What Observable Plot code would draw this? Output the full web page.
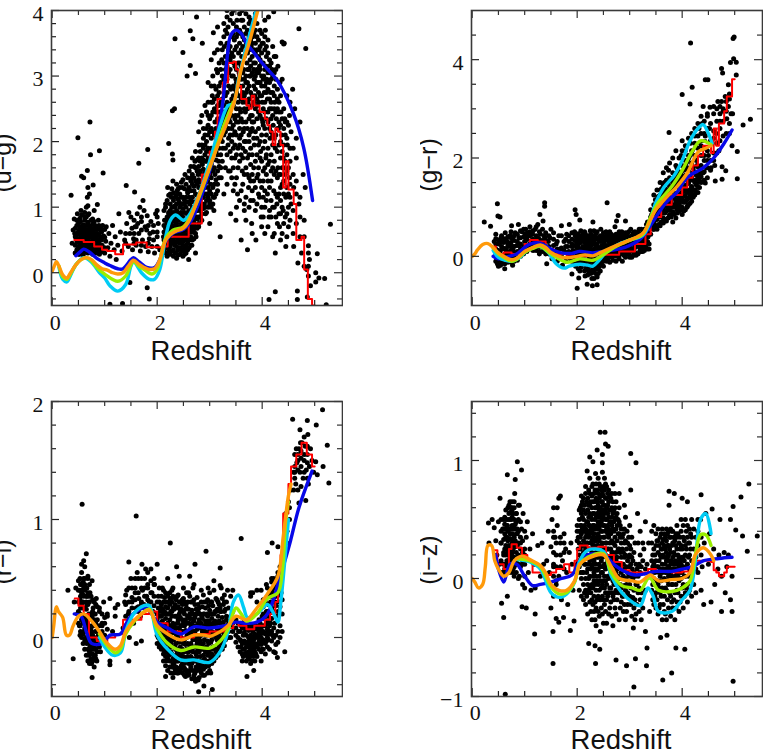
<!DOCTYPE html>
<html><head><meta charset="utf-8">
<script src="https://cdn.jsdelivr.net/npm/d3@7"></script>
<script src="https://cdn.jsdelivr.net/npm/@observablehq/plot@0.6"></script>
<style>html,body{margin:0;padding:0;background:#fff}#c{position:relative;width:763px;height:756px;overflow:hidden}#c svg{position:absolute;background:transparent}</style>
</head><body><div id="c"></div>
<script>
const ugPoints=[.49,2.06,.72,2.3,.73,1.8,.9,1.86,.97,1.52,.36,1.18,.56,1.47,.67,1.56,.6,1.45,.78,1.34,.68,1.3,.71,1.2,.67,1.15,.86,1.04,.68,1.02,1.41,1.33,1.57,1.23,1.65,1.67,1.82,1.88,1.27,.9,1.46,.92,1.73,1.1,1.67,1,2,.95,1.81,.87,1.1,-.48,1.34,-.47,1.81,-.23,1.85,-.4,1.48,-.15,2.34,3.57,2.49,3.36,2.68,3.57,2.86,3.5,2.63,3.69,2.75,3.9,3.07,3.66,2.63,3.16,2.57,3,2.73,3.04,2.29,2.47,2.33,2.5,2.22,1.97,2.29,1.81,2.3,1.72,4.7,3.72,4.83,3.42,4.41,3.49,4.38,3.52,4.22,3.98,3.33,4,5.3,.74,5.05,.29,4.88,.41,5.02,0,5.08,-.08,5.19,-.09,5.02,-.14,5.22,-.49,4.67,-.28,4.67,-.41,4.13,-.41,4.25,-.29,4.86,-.37,
.38,.45,.4,.65,.42,.82,.44,.3,.45,.55,.47,.72,.48,.9,.5,.38,.5,.62,.52,.28,.53,.5,.54,.78,.55,.95,.56,.36,.57,.6,.58,.45,.6,.7,.6,.3,.62,.85,.62,.52,.64,.4,.65,1,.66,.62,.67,.32,.68,.75,.7,.48,.7,.9,.72,.56,.73,.36,.75,.68,.76,.43,.77,.82,.78,.3,.8,.58,.8,.95,.82,.47,.83,.7,.85,.37,.86,.6,.88,.8,.9,.5,.9,.28,.92,.65,.95,.42,.96,.72,.98,.56,1,.3,1.02,.48,1.03,.7,1.06,.38,1.08,.6,1.1,.25,1.12,.45,1.15,.72,1.18,.35,1.2,.55,1.22,.2,1.25,.42,1.3,.62,.48,.5,.52,.66,.58,.58,.63,.48,.66,.5,.71,.68,.74,.55,.79,.5,.43,.6,.56,.7,.61,.4,.69,.42,.76,.6,.84,.53,.88,.42,
1.33,.33,1.38,.5,1.42,.75,1.45,.4,1.48,.6,1.5,.85,1.53,.35,1.55,.52,1.58,.7,1.6,.42,1.62,.9,1.65,.6,1.68,.33,1.7,.78,1.72,.5,1.75,.95,1.78,.4,1.8,.65,1.83,.32,1.85,.52,1.88,.78,1.9,.4,1.92,.62,1.95,.3,1.97,.9,2,.55,2.02,.75,2.05,.35,1.52,.68,1.63,.75,1.77,.7,1.86,.6,
2.1,.3,2.12,.55,2.14,.8,2.16,1.05,2.18,.42,2.2,.68,2.2,1.3,2.22,.9,2.24,.32,2.25,.55,2.27,1.15,2.28,.78,2.3,.45,2.3,1.4,2.32,.62,2.33,1,2.35,.3,2.36,.85,2.38,1.25,2.39,.52,2.4,.7,2.42,1.08,2.43,.38,2.45,.92,2.46,.6,2.48,1.3,2.49,.25,2.5,.78,2.5,.48,2.52,1.1,2.53,1.5,2.55,.65,2.55,.35,2.57,.9,2.58,1.25,2.6,.55,2.6,.2,2.62,1.05,2.63,.75,2.65,1.45,2.66,.42,2.68,.95,2.7,.62,2.7,1.25,2.72,1.7,2.73,.3,2.75,.85,2.76,1.1,2.78,1.5,2.79,.7,2.8,1.95,2.82,.95,2.83,1.3,2.85,.8,2.86,1.65,2.88,2.2,2.9,1.05,2.9,1.45,2.92,.9,2.94,1.85,2.95,1.2,2.97,2.4,2.98,1.6,3,.75,3,1.05,3.02,1.35,3.03,2.05,3.05,1.75,3.05,2.7,3.07,1.15,3.08,.95,3.1,1.5,3.1,2.3,3.12,1.95,3.13,3.1,3.15,2.55,3.15,1.25,3.17,1.7,3.18,2.85,3.2,2.15,3.2,.55,3.22,1.45,3.23,3.25,3.25,2.45,3.25,1.9,3.27,2.75,3.28,3.45,3.3,1.6,3.3,2.25,3.32,3.05,2.22,.45,2.26,.72,2.34,.72,2.44,.5,2.47,.72,2.51,.62,2.56,.5,2.59,.75,2.64,.62,2.69,.78,2.74,.55,2.77,.95,2.81,1.2,2.87,1.15,2.91,1.7,2.96,1.4,3.04,1.55,3.09,1.9,3.14,2,3.19,2.45,
3.33,2.6,3.35,3.75,3.35,1.95,3.37,2.35,3.38,3.3,3.4,.9,3.4,2.8,3.42,1.45,3.42,3.95,3.44,2.1,3.45,2.55,3.47,3.55,3.48,1.75,3.5,2.95,3.5,.8,3.52,3.85,3.53,1.2,3.55,2.3,3.55,3.35,3.57,1.95,3.58,2.7,3.6,.5,3.6,3.65,3.62,1.55,3.62,4,3.64,2.15,3.65,3.1,3.66,.95,3.68,2.45,3.68,1.85,3.7,3.5,3.72,.35,3.72,2.8,3.74,1.3,3.75,3.9,3.75,2.1,3.77,3.25,3.78,1.65,3.8,.75,3.8,2.55,3.82,3.6,3.83,1.1,3.85,2.95,3.85,1.95,3.87,3.35,3.88,.5,3.9,2.35,3.9,3.8,3.92,1.5,3.93,2.75,3.95,1.15,3.95,3.15,3.97,1.85,3.98,.85,4,2.6,4,3.5,4.02,1.4,4.03,3,4.05,2.2,4.05,.6,4.07,1.75,4.08,3.3,4.1,2.65,4.1,1.2,4.12,3.9,4.13,.85,4.15,2.05,4.15,3.05,4.17,1.55,4.18,2.5,4.2,.55,4.2,3.45,4.22,1.25,4.23,2.85,4.25,1.9,4.25,.3,4.27,2.35,4.28,1.05,4.3,3.15,4.3,1.6,4.32,2.6,4.33,.7,4.35,1.3,4.37,2.1,4.38,2.95,4.4,.95,4.4,1.75,4.42,3.5,4.43,2.35,4.45,.4,4.45,1.15,4.47,2.7,4.48,1.95,4.5,.7,4.52,1.45,4.52,2.4,4.55,2.15,4.55,1.05,4.58,2.8,4.6,.4,4.6,1.3,4.62,2.5,4.65,1.75,4.68,.15,4.7,1.05,4.72,2.3,4.75,.3,4.78,1.5,4.8,.1,4.82,1.3,4.85,.05,4.9,.2,4.92,-.2,
3.46,3.2,3.49,2.4,3.51,3.6,3.54,2.7,3.56,3.05,3.59,2.45,3.61,3.3,3.63,2.75,3.66,3.75,3.69,2.9,3.71,3.2,3.73,2.6,3.76,3,3.79,3.45,3.81,2.3,3.84,3.2,3.86,2.7,3.89,3.05,3.91,2.55,3.94,3.4,3.96,2.9,3.99,3.2,4.01,2.3,4.04,2.75,4.06,3.7,4.09,2.95,4.11,2.45,4.14,3.25,4.16,2.75,4.19,3.1,4.21,2.25,4.24,2.6,4.26,3.3,4.29,2.8,4.31,2.2,4.34,2.9,4.36,2.45];
const ugDense=[[.44,.3,.42,.55,.68],[.5,.28,.4,.52,.62,.75],[.53,.33,.45,.58,.7,.83],[.59,.27,.38,.5,.61,.73],[.62,.33,.44,.55,.67,.8,.92],[.68,.3,.41,.53,.64,.77,.88],[.71,.36,.47,.6,.71],[.77,.28,.38,.49,.62,.74],[.8,.33,.44,.55,.66,.78],[.85,.3,.42,.51,.66],[.89,.35,.46,.58,.72],[.94,.32,.5,.62],[1,.38,.54,.66],[1.4,.6,.45],[1.56,.6,.8,.45],[1.6,.5,.7],[1.7,.42,.65,.85],[1.83,.45,.72],[1.93,.5,.72],[2,.4,.62,.85],
[2.13,.35,.5,.62,.72,.95],[2.19,.25,.38,.5,.6,.75,.85,1.1],[2.25,.28,.4,.5,.63,.83,.95,1.05,1.2],[2.31,.25,.35,.5,.58,.68,.82,.92,1.1,1.22],[2.37,.22,.4,.47,.6,.75,.95,1.05,1.18,1.35],[2.43,.28,.45,.58,.65,.82,1,1.2,1.3],[2.49,.33,.42,.55,.65,.85,.98,1.15,1.42],[2.55,.3,.42,.58,.72,.82,1,1.15,1.35],[2.61,.38,.5,.62,.85,.95,1.15,1.3,1.55],[2.67,.5,.62,.7,.82,1,1.15,1.35,1.5,1.75],[2.73,.6,.7,.95,1.05,1.2,1.4,1.6,1.85],[2.79,.75,.85,1.05,1.3,1.42,1.62,1.75,2.15],[2.85,.9,1.05,1.2,1.4,1.5,1.75,1.95,2.4],[2.91,1,1.2,1.3,1.55,1.8,1.95,2.1,2.55],[2.97,1,1.15,1.3,1.75,1.9,2.1,2.25,2.6,2.9],[3.03,1,1.2,1.45,1.65,1.9,2.2,2.4,2.6,2.85,3.25],[3.09,1.15,1.35,1.6,2.1,2.5,2.65,2.85,3.35],[3.15,1.35,1.55,1.8,2.35,2.7,3.05,3.4,3.75],[3.21,1.6,1.8,2.05,2.6,2.9,3.1,3.5],[3.27,1.2,2.1,2.3,2.55,2.95,3.2,3.6,3.8],
[3.33,1.35,1.8,2.3,2.45,2.75,2.95,3.15,3.5,3.65,3.9],[3.39,1.55,1.85,2.1,2.3,2.55,3.1,3.25,3.45,3.85],[3.45,1.25,1.6,1.9,2.25,2.7,2.85,3,3.3,3.65,3.8,4],[3.51,1,1.45,1.8,2.1,2.3,2.5,2.75,2.9,3.1,3.45,3.75],[3.57,1.1,1.7,2.05,2.2,2.5,2.85,3,3.2,3.5,3.7,3.95],[3.63,1.35,1.75,1.9,2.3,2.6,2.85,3.05,3.45,3.6,3.85],[3.69,.8,1.15,1.6,2,2.3,2.6,2.75,3,3.35,3.65,3.95],[3.75,1,1.45,1.8,2,2.35,2.65,2.85,3.1,3.4,3.6,3.8],[3.81,.6,1.25,1.5,1.8,2.2,2.4,2.7,3.05,3.3,3.5,3.75],[3.87,.95,1.3,1.7,2.15,2.5,2.8,3,3.2,3.5,3.7,3.95],[3.93,1.2,1.6,1.95,2.2,2.45,2.6,2.9,3.05,3.3,3.55],[3.99,.7,1,1.3,1.7,2.1,2.35,2.7,2.85,3,3.35,3.65],[4.05,1,1.25,1.6,2,2.45,2.6,2.85,3.1,3.4,3.6,3.85],[4.11,.7,1.4,1.65,1.9,2.3,2.8,3.05,3.35,3.55],[4.17,.85,1.1,1.4,1.8,2.15,2.35,2.6,2.95,3.2],[4.23,.6,1,1.5,1.7,2.05,2.5,2.7,3.05,3.3],[4.29,.75,1.15,1.45,1.85,2.2,2.5,2.65],[4.35,.5,.9,1.1,1.5,1.75,2,2.25,2.7],[4.41,.75,1.2,1.4,1.6,1.95,2.2,2.5],[4.47,.55,.9,1.3,1.55,1.8,2.05,2.3],[4.53,.8,1.15,1.35,1.7,1.9,2.6],[4.59,.6,.95,1.5,1.9],[4.65,.75,1.2,1.4,2.05],[4.72,.55,.85,1.15],[4.8,.55,.8],[4.88,.1,.3,-.05]];
const ugFill=[[.47,.35,.47,.6,.8],[.56,.3,.42,.55,.66,.88],[.65,.36,.47,.58,.72,.85],[.74,.33,.44,.54,.66,.8],[.82,.36,.5,.6,.72],[.92,.4,.55,.68],
[2.16,.3,.45,.58,.68,.8,1],[2.22,.35,.55,.68,.78,.92,1.18],[2.28,.33,.45,.58,.72,.88,1,1.28],[2.34,.3,.42,.55,.65,.78,.88,1.02,1.15],[2.4,.27,.35,.55,.67,.8,.9,1.12,1.28],[2.46,.35,.5,.62,.75,.88,1.05,1.15,1.38],[2.52,.28,.38,.52,.6,.72,.92,1.05,1.28],[2.58,.35,.45,.52,.68,.78,.92,1.08,1.22,1.45],[2.64,.42,.55,.68,.8,.9,1.1,1.25,1.4,1.62],[2.7,.52,.68,.75,.9,1.08,1.32,1.45,1.62],[2.76,.68,.82,1.02,1.18,1.35,1.55,1.72],[2.82,.85,1,1.12,1.38,1.55,1.7,1.85,2.3],[2.88,.98,1.15,1.3,1.58,1.72,1.9,2.05],[2.94,.92,1.1,1.38,1.5,1.7,2,2.2,2.45],[3,1.1,1.25,1.5,1.7,1.85,2.15,2.35],[3.06,1.05,1.3,1.55,1.85,2.15,2.45,2.6,3],[3.12,1.2,1.42,1.72,1.85,2.2,2.45,2.8],[3.18,1.45,1.62,1.9,2.3,2.55,2.75,3.2],[3.24,1.7,2,2.3,2.65,3,3.4],[3.3,1.9,2.15,2.4,2.7,3.1,3.3,3.7],
[3.36,1.55,2.05,2.2,2.5,2.85,3.05,3.4],[3.42,1.75,2,2.2,2.4,2.65,3,3.35,3.6],[3.48,1.35,1.95,2.15,2.35,2.8,3.15,3.4],[3.54,1.6,1.9,2.4,2.6,2.85,3.2,3.65],[3.6,1.25,1.8,2.1,2.35,2.65,2.95,3.15,3.4,3.85],[3.66,1.05,1.5,2,2.2,2.5,2.7,2.95,3.3,3.55],[3.72,1.5,1.75,2.2,2.5,2.9,3.1,3.35,3.7],[3.78,1.1,1.4,1.9,2.15,2.4,2.75,3,3.15,3.55,3.85],[3.84,1.4,1.6,2.05,2.3,2.6,2.85,3.1,3.4,3.65],[3.9,1.05,1.45,1.8,2.05,2.65,2.9,3.1,3.4,3.6],[3.96,1.4,1.75,2,2.4,2.7,3.1,3.25,3.45,3.7],[4.02,.85,1.15,1.55,1.9,2.25,2.5,2.95,3.2,3.5],[4.08,1.1,1.5,1.8,2.1,2.35,2.75,2.9,3.15,3.45],[4.14,.95,1.3,1.7,2.2,2.5,2.65,2.9,3.15],[4.2,1,1.6,1.95,2.1,2.4,2.75,3],[4.26,.85,1.2,1.55,2.1,2.45,2.95,3.1],[4.32,.9,1.2,1.5,1.95,2.3,2.45],[4.38,.6,1,1.35,1.6,1.85,2.35],[4.44,.85,1.5,1.7,2.1,2.3],[4.5,1,1.2,1.6,2.25]];
const ugOrange=[0,.02,.05,.12,.08,.17,.13,.1,.2,-.03,.28,-.08,.35,0,.45,.12,.55,.2,.65,.23,.75,.2,.85,.12,.95,.06,1.05,.04,1.15,0,1.25,-.02,1.35,0,1.45,.1,1.55,.19,1.65,.13,1.75,.08,1.85,.05,1.95,.06,2.05,.2,2.15,.48,2.25,.58,2.35,.63,2.5,.68,2.6,.78,2.83,1.25,3.14,1.91,3.46,2.58,3.6,3.1,3.75,3.5,3.9,3.95,3.95,4.1];
const ugGreen=[.13,.1,.2,-.06,.28,-.1,.35,-.02,.45,.12,.55,.2,.65,.23,.75,.18,.85,.08,1,-.02,1.25,-.13,1.4,-.05,1.5,.12,1.55,.18,1.65,.1,1.75,.05,1.9,-.02,2,.05,2.15,.5,2.3,.65,2.5,.7,2.7,.97,3,1.6,3.25,2.2,3.45,2.6];
const ugCyan=[.13,.08,.2,-.1,.28,-.14,.35,-.04,.45,.12,.6,.23,.75,.16,.9,0,1,-.08,1.1,-.2,1.25,-.28,1.4,-.18,1.5,.1,1.55,.17,1.7,0,1.85,-.1,1.95,-.1,2.05,.05,2.15,.5,2.25,.8,2.35,.88,2.5,.8,2.6,.87,2.8,1.2,3,1.7,3.2,2.25,3.35,2.55,3.45,2.58,3.55,2.95,3.7,3.45,3.85,3.9,3.92,4.1];
const ugBlue=[.45,.26,.55,.33,.6,.36,.7,.32,.85,.22,1,.15,1.1,.11,1.25,.06,1.35,.06,1.5,.2,1.55,.23,1.65,.17,1.8,.08,1.95,.08,2.05,.2,2.15,.47,2.3,.6,2.5,.66,2.65,.8,2.9,1.3,3.05,1.7,3.15,2.1,3.25,2.6,3.3,3,3.35,3.4,3.4,3.62,3.5,3.7,3.6,3.65,3.7,3.5,3.81,3.39,4.05,3.15,4.29,2.93,4.6,2.42,4.79,1.91,4.96,1.1];
const ugRed=[.42,.5,.6,.47,.8,.4,.95,.35,1.05,.33,1.2,.28,1.35,.43,1.6,.46,1.8,.39,2.1,.4,2.2,.55,2.6,.75,2.85,1.5,3,1.85,3.1,2.15,3.15,2.65,3.25,2.9,3.35,3.2,3.45,3.22,3.5,3.1,3.55,2.85,3.6,2.65,3.7,2.55,3.75,2.5,3.8,2.7,3.85,2.55,3.95,2.45,4.05,2.35,4.1,2.25,4.15,2.15,4.2,1.95,4.25,2.2,4.3,2.15,4.35,1.95,4.4,1.3,4.45,1.7,4.5,1.27,4.6,1.05,4.65,.5,4.75,.55,4.8,.05,4.87,-.4,4.95,-.5,5,-.5];
const ugBlack=[2.2,.52,2.4,.68,2.6,.8,2.8,1.2,3,1.65,3.2,2.2,3.4,2.6];

const grPoints=[4.16,4.34,4.97,4.43,4.99,4.46,4.75,3.82,4.77,3.73,4.98,4.02,4.92,3.94,5.03,3.95,5.03,3.69,4.88,3.49,4.44,3.59,4.49,3.59,4.19,3.44,4,3.29,4.15,3.1,4.4,3.05,4.53,3.03,5.3,2.79,5.16,2.67,5.05,1.58,5.05,2.13,4.95,2.25,3.75,2.52,4.76,1.57,4.63,1.53,4.44,1.49,4.76,1.82,4.83,1.74,2.57,1.09,1.38,1.09,1.38,1.02,.48,1.07,.49,.82,.53,.8,.23,.7,.35,.61,1.29,.85,1.96,.95,1.98,.85,2.05,.74,2.78,.83,2.75,.72,2.92,.72,2,-.65,2.29,-.6,2.38,-.58,2.19,-.57,2.03,-.44,1.9,-.36,
.42,.3,.45,.45,.47,.12,.48,-.15,.5,.25,.52,.05,.54,-.18,.55,.38,.57,.15,.6,-.05,.6,.28,.62,-.25,.63,.48,.65,.12,.67,.3,.68,-.12,.7,.05,.72,.42,.73,.2,.75,.62,.77,-.18,.78,.12,.8,.32,.82,.48,.83,-.05,.85,.22,.88,.65,.9,.08,.92,.38,.95,.5,.97,.15,1,.3,1.02,.55,1.05,.42,1.07,.22,1.1,.6,1.12,.3,1.15,.45,1.18,.15,1.2,.55,1.22,.35,1.25,.65,1.28,.1,1.3,.45,1.33,.25,1.35,.72,1.38,.4,1.4,.05,1.42,-.15,1.45,.3,1.48,.12,1.5,.55,1.52,-.05,1.55,.35,1.57,.1,1.6,.25,1.62,-.1,1.65,.42,1.68,.15,1.7,.62,1.72,-.18,1.75,.3,1.78,.08,1.8,.45,1.82,.2,1.85,.65,1.87,-.05,1.9,.35,1.92,.12,1.95,.5,1.97,-.2,2,.25,2.02,.4,2.04,.05,2.05,-.3,2.07,.52,2.1,.15,2.1,-.12,2.12,.35,2.15,-.4,2.15,.48,2.17,.22,2.18,-.2,2.2,.05,2.22,.38,2.22,-.3,2.25,.52,2.25,.15,2.27,-.1,2.28,-.45,2.3,.3,2.3,.7,2.32,-.25,2.33,.08,2.35,.45,2.37,-.15,2.38,.2,2.4,-.35,2.42,.35,2.43,.02,2.45,.55,2.47,.15,2.5,-.1,2.5,.4,2.52,.25,2.55,.05,2.55,.5,2.58,-.05,2.6,.3,2.62,.12,2.65,.45,2.67,0,2.7,.25,2.72,.6,2.75,.08,2.78,.38,2.8,-.05,2.82,.18,2.85,.5,2.87,.05,2.9,.3,2.92,.12,2.95,.42,2.98,.18,3,-.02,3.02,.55,3.05,.25,3.08,.1,3.1,.42,3.12,.02,3.15,.3,3.18,.55,3.2,.15,3.22,.35,3.25,.1,3.28,.45,3.3,.25,3.32,.65,3.35,.4,3.37,.15,
1.02,.15,.8,.02,.95,.05,1.15,.28,1.3,.3,.68,.2,.58,.02,1.48,.38,1.75,.12,1.9,.2,
3.4,.6,3.42,.85,3.45,.55,3.47,.72,3.5,.95,3.52,.62,3.54,1.2,3.56,.8,3.58,1.35,3.6,.7,3.62,1.05,3.64,.88,3.66,1.5,3.68,.75,3.7,1.2,3.72,.95,3.74,1.75,3.76,.85,3.78,1.1,3.8,1.4,3.82,.9,3.84,1.6,3.86,1.05,3.88,1.25,3.9,.95,3.9,1.8,3.92,1.15,3.94,1.4,3.96,1.02,3.98,2.05,4,1.25,4,1.6,4.02,1.1,4.04,1.45,4.06,2.15,4.08,1.3,4.1,1.02,4.1,1.8,4.12,1.5,4.14,1.2,4.16,2.3,4.18,1.4,4.2,1.7,4.22,1.25,4.24,2.45,4.26,1.55,4.28,1.85,4.3,1.4,4.32,2.6,4.34,1.65,4.36,2.05,4.38,2.7,4.4,1.7,4.42,2.2,4.44,2.45,4.46,1.8,4.48,2.85,4.5,2.05,4.52,2.6,4.55,1.8,4.57,2.3,4.6,2.9,4.62,1.85,4.65,2.5,4.68,3.15,4.7,2.15,4.72,2.75,4.75,3.15,4.78,2.95,4.82,3.25,4.85,2.8,4.88,3.05,4.9,2.7,4.93,2.9];
const grDense=[[.45,-.1,.02,.15,.25,.36],[.5,-.2,-.08,.12,.33],[.56,-.12,0,.2,.3,.42],[.62,-.15,.02,.16,.36],[.68,-.1,.08,.25,.4],[.74,-.12,0,.12,.28,.38,.5],[.8,-.1,.05,.2,.42],[.86,-.08,.1,.3,.45],[.92,0,.15,.25,.52],[.98,.05,.2,.4,.55],[1.04,.1,.22,.35,.47],[1.1,.15,.25,.42,.5],[1.16,.12,.2,.35,.52],[1.22,.12,.28,.42,.6],[1.28,.05,.2,.35,.5],[1.34,.1,.32,.55],[1.4,.12,.2,.33,.48],[1.46,.05,.2,.42],[1.55,.02,.22,.48],[1.62,.05,.15,.3],[1.7,.03,.17,.42],[1.78,-.1,.2,.35],[1.84,-.02,.1,.3,.42],[1.9,-.1,.02,.25,.48],
[1.96,-.15,-.02,.1,.22,.32,.42],[2.02,-.25,-.1,.1,.2,.33,.46],[2.08,-.22,-.05,.08,.3,.42],[2.14,-.3,-.15,.02,.14,.28,.38,.5],[2.2,-.38,-.25,-.1,.12,.25,.42],[2.26,-.35,-.2,-.02,.1,.22,.35,.45],[2.32,-.45,-.32,-.15,0,.15,.28,.4,.52],[2.38,-.42,-.25,-.08,.1,.25,.38,.5],[2.44,-.3,-.18,-.02,.18,.3,.42],[2.5,-.2,0,.12,.3,.35,.48],[2.56,-.1,.02,.18,.33,.42],[2.62,-.12,.05,.2,.28,.38,.5],[2.68,-.08,.05,.18,.32,.42],[2.74,-.1,0,.15,.35,.45],[2.8,.02,.12,.25,.4,.5],[2.86,-.1,.1,.22,.38],[2.92,-.02,.08,.25,.35,.48],[2.98,.05,.1,.25,.4,.5],[3.04,-.02,.15,.32,.42],[3.1,.08,.18,.3,.5],[3.16,.05,.2,.38,.48],[3.22,.1,.28,.42,.55],[3.28,.12,.2,.35,.55],[3.34,.15,.3,.5,.7],
[3.4,.45,.7,.8,.95],[3.46,.55,.65,.85,1.05,1.25],[3.52,.55,.75,.9,1.1,1.35],[3.58,.62,.82,.95,1.15,1.25,1.5],[3.64,.68,.78,.95,1.1,1.3,1.45,1.7],[3.7,.72,.92,1.05,1.15,1.35,1.55,1.8],[3.76,.82,.95,1.1,1.2,1.42,1.6,1.9],[3.82,.7,.9,1,1.18,1.35,1.5,1.7,2],[3.88,.78,1,1.12,1.28,1.45,1.65,1.85,2.15],[3.94,.92,1.08,1.2,1.38,1.55,1.72,2],[4,.85,1,1.18,1.3,1.45,1.62,1.85,2.15,2.35],[4.06,.95,1.1,1.22,1.4,1.65,1.95,2.25],[4.12,1.05,1.18,1.3,1.48,1.75,2.05,2.4],[4.18,1.12,1.28,1.42,1.6,1.9,2.15,2.5],[4.24,1.25,1.35,1.5,1.72,2.05,2.3,2.6],[4.3,1.3,1.5,1.62,1.82,2.2,2.45,2.7],[4.36,1.5,1.62,1.85,2.25,2.5,2.85],[4.42,1.55,1.72,1.95,2.05,2.5,2.75],[4.48,1.6,1.8,1.95,2.15,2.6,2.9],[4.54,1.75,1.95,2.35,2.7],[4.6,1.95,2.1,2.4,2.55,3.05],[4.66,2.1,2.3,2.75,3],[4.72,2.35,2.6,2.9,3.05],[4.78,2.45,2.75,3],[4.84,2.5,2.95,3.15],[4.9,2.5,3.2,3.3],[4.96,2.9]];
const grFill=[[.53,-.05,.1,.28],[.65,0,.12,.32],[.77,-.02,.2,.35],[.89,.05,.22,.38],[1.01,.12,.3,.45],[1.13,.18,.32,.45],[1.25,.2,.38],[1.37,.18,.28,.42],
[1.99,-.05,.06,.18,.28,.38],[2.05,-.15,0,.15,.27,.38],[2.11,-.12,.03,.2,.35,.45],[2.17,-.25,-.08,.08,.2,.32,.42],[2.23,-.18,-.02,.18,.3],[2.29,-.28,-.1,.03,.12,.25,.38],[2.35,-.35,-.2,-.05,.12,.22,.35],[2.41,-.22,-.12,.05,.15,.32],[2.47,-.12,.02,.1,.22,.38],[2.53,-.05,.08,.2,.38],[2.59,.02,.1,.22,.35,.45],[2.65,-.02,.1,.25,.35],[2.71,.02,.12,.28,.38],[2.77,.05,.18,.3,.42],[2.83,.08,.2,.35,.45],[2.89,.02,.12,.25,.42],[2.95,.05,.15,.3,.45],[3.01,.1,.22,.35],[3.07,.02,.12,.35,.48],[3.13,.05,.25,.42],[3.19,.1,.22,.45],[3.25,.18,.3,.48],[3.31,.18,.3,.42],[3.37,.25,.45,.6],
[3.49,.6,.78,.98,1.15],[3.55,.65,.85,1.05,1.22],[3.61,.7,.9,1.08,1.2,1.38],[3.67,.72,.88,1.02,1.22,1.38],[3.73,.78,1,1.12,1.28,1.48],[3.79,.8,1.02,1.15,1.3,1.55],[3.85,.85,1.05,1.2,1.42,1.6],[3.91,.88,1.05,1.25,1.48,1.7],[3.97,.95,1.15,1.28,1.45,1.68],[4.03,.92,1.12,1.35,1.55,1.75],[4.09,1,1.15,1.35,1.58],[4.15,1.08,1.25,1.35,1.55],[4.21,1.2,1.35,1.55,1.8],[4.27,1.3,1.45,1.65,1.95],[4.33,1.4,1.55,1.72]];
const grOrange=[0,0,.05,.05,.1,.13,.2,.24,.3,.26,.4,.18,.5,.07,.6,0,.75,-.07,.85,-.04,1,.1,1.15,.18,1.3,.23,1.4,.18,1.5,.08,1.65,0,1.8,-.03,2,0,2.15,.03,2.3,.01,2.45,.08,2.7,.2,3,.33,3.25,.47,3.4,.75,3.5,.95,3.7,1.2,3.9,1.42,4.1,1.7,4.3,2.12,4.45,2.2,4.55,2.25];
const grGreen=[.4,.17,.5,.05,.6,-.02,.75,-.1,.85,-.06,1,.08,1.15,.16,1.3,.2,1.5,.05,1.8,-.12,2.05,-.05,2.3,-.08,2.45,0,2.7,.18,3,.33,3.25,.45,3.4,.8,3.55,1.1,3.8,1.42,4,1.75,4.2,2.15,4.35,2.35,4.55,2.27];
const grCyan=[.4,.12,.5,-.02,.75,-.1,.9,-.03,1.05,.12,1.3,.2,1.45,.08,1.6,-.15,1.75,-.24,1.85,-.2,2.05,-.16,2.2,-.18,2.3,-.2,2.4,-.1,2.55,.08,2.8,.25,3,.33,3.25,.43,3.35,.6,3.5,1.1,3.65,1.4,3.85,1.65,4,1.95,4.15,2.35,4.3,2.6,4.4,2.68,4.5,2.5,4.57,2.3];
const grBlue=[.4,0,.5,-.05,.7,0,.85,.05,1,.18,1.1,.25,1.3,.27,1.5,.15,1.7,.07,1.9,.06,2.05,.1,2.3,.07,2.5,.1,2.8,.15,3,.22,3.2,.35,3.35,.55,3.5,.8,3.7,1.1,3.9,1.3,4.05,1.55,4.15,1.65,4.4,1.8,4.6,2,4.8,2.3,4.95,2.57];
const grRed=[.42,.2,.45,.05,.6,.08,.75,.05,.9,.1,1,.25,1.1,.33,1.25,.3,1.4,.15,1.55,.05,1.8,0,2.2,.05,2.5,.03,2.8,.1,3.1,.25,3.3,.45,3.4,.8,3.6,1.05,3.8,1.25,4,1.4,4.1,1.6,4.2,1.85,4.3,2.05,4.4,2.25,4.55,2.1,4.6,2.6,4.65,2.25,4.7,2.7,4.8,2.95,4.85,3.25,4.95,3.6,5,3.6];
const grBlack=[3.5,1.05,3.7,1.32,3.9,1.55,4.1,1.9,4.3,2.3,4.45,2.35];

const riPoints=[.57,1.13,1.6,1.03,2.25,.8,2.93,.73,3.6,.84,.65,.71,.3,.4,.4,-.18,.76,-.34,1.46,.64,1.71,.62,2,.62,2.37,.6,2.72,.62,3.2,.59,2.62,.52,5.15,1.93,4.58,1.85,4.86,1.84,5.03,1.8,4.72,1.76,4.87,1.72,5.24,1.63,5.27,1.31,5.16,1.45,5.05,1.38,5.02,1.49,4.83,1.16,4.7,1.14,4.45,.97,4.45,1.05,4.19,.8,4.1,.72,4.3,.77,2.79,-.46,3.05,-.44,2.73,-.37,2.89,-.41,3.71,-.33,3.84,-.28,2.16,-.33,2.3,-.34,2.54,-.33,1.1,-.23,1.46,-.2,4.25,-.13,4.29,-.17,4.43,-.12,3.62,-.2,3.98,-.2,
.42,.3,.45,.42,.48,.2,.5,.48,.52,.1,.54,.35,.56,.62,.58,.25,.6,.65,.6,.05,.62,.45,.64,.15,.65,.3,.66,-.05,.68,.52,.7,.2,.7,-.15,.72,.38,.74,.05,.75,-.22,.76,.48,.78,.25,.8,-.1,.82,.1,.84,.33,.85,-.2,.88,.02,.9,.25,.92,-.12,.95,.12,.98,.3,1,-.05,1.05,.2,1.1,.33,1.1,-.2,1.15,.05,.55,.3,.62,.08,.68,-.02,.72,-.08,.78,-.02,.58,.4,.66,.35,
1.25,.28,1.35,.08,1.38,.3,1.42,.4,1.45,.2,1.5,.5,1.52,.3,1.55,.12,1.58,.42,1.6,.25,1.62,.55,1.65,.33,1.68,.18,1.7,.5,1.72,.4,1.75,.28,1.78,.58,1.8,.35,1.82,.45,1.85,.3,1.88,.58,1.9,.38,1.92,.22,1.95,.45,1.47,0,1.7,-.03,1.6,-.05,
2,.15,2.02,.35,2.05,-.02,2.07,.25,2.1,.42,2.12,.1,2.14,-.12,2.15,.3,2.17,.02,2.19,.2,2.2,.5,2.22,-.15,2.24,.08,2.25,.32,2.27,-.05,2.28,.22,2.3,-.22,2.3,.42,2.32,.1,2.34,.28,2.35,-.1,2.37,.02,2.38,.35,2.4,.15,2.4,-.28,2.42,.52,2.44,.22,2.45,-.15,2.47,.05,2.48,.32,2.5,-.05,2.5,.42,2.52,-.22,2.54,.15,2.55,.28,2.57,.02,2.58,-.12,2.6,.38,2.6,-.3,2.62,.2,2.64,-.05,2.65,.1,2.67,.3,2.68,-.2,2.7,.45,2.72,-.35,2.72,.02,2.74,.2,2.76,-.12,2.78,.28,2.8,.1,2.8,-.25,2.82,-.03,2.84,.4,2.85,.18,2.87,-.32,2.88,-.1,2.9,.3,2.92,.05,2.94,-.2,2.95,.2,2.97,.42,2.98,-.05,3,.12,3,-.28,3.02,.3,3.04,-.1,3.06,.2,3.08,.48,3.1,.02,3.12,-.17,3.14,.32,3.15,.12,3.17,-.05,3.2,.22,3.22,.42,3.24,-.1,3.26,.08,3.28,.3,3.3,.02,3.32,.18,3.34,.4,3.36,.05,
3.55,.05,3.6,.12,3.67,.1,3.78,.38,3.9,.4,4.02,.32,4.08,.45,4.16,.35,4.18,.5,4.26,.43,4.3,.55,4.36,.38,4.38,.6,
4.45,.75,4.47,.9,4.5,1.15,4.55,1.25,4.6,1.4,4.62,1.55,4.64,1.3,4.66,1.48,4.68,1.25,4.7,1.6,4.72,1.4,4.74,1.52,4.76,1.65,4.78,1.35,4.8,1.5,4.82,1.62,4.84,1.42,4.86,1.55,4.88,1.3,4.9,1.45,4.92,1.6,4.95,1.5,4.98,1.4,4.65,1.6,4.73,1.65,4.6,1.25];
const riDense=[[.5,.4,.3,.22,.12],[.53,.5,.4,.32,.2,.1,.02],[.56,.55,.45,.38,.28,.15,0],[.59,.47,.36,.3,.18,.12,.03,-.05],[.62,.6,.5,.4,.25,.12,-.02,-.1],[.65,.42,.35,.24,.17,.07,0,-.15],[.68,.5,.38,.28,.1,-.02,-.1,-.2],[.71,.45,.3,.16,.02,-.05,-.12,-.22],[.74,.35,.2,.08,-.02,-.1,-.18],[.77,.32,.22,.02,-.05,-.14,-.2],[.8,.3,.15,0,-.08,-.15,-.25],[.83,.28,.12,-.04,-.1,-.18],[.86,.26,.15,.05,-.06,-.12],[.9,.22,.1,-.02,-.08],[.95,.2,.1,.05,-.04],[1,.17,.12,.02],[1.05,.18,.07],[1.2,.18,.25],
[1.4,.18,.28,.36,.1],[1.46,.3,.42,.15,.22],[1.52,.25,.42,.34],[1.58,.32,.38,.5],[1.64,.22,.38,.5,.26],[1.7,.3,.42,.28],[1.76,.35,.5,.25,.42],[1.82,.32,.42,.55],[1.88,.3,.38,.48],[1.94,.27,.35,.45,.5],
[2,.3,.2,.1,.02,-.05],[2.04,.42,.3,.18,.08,.04,-.08],[2.08,.35,.28,.18,.1,-.02,-.1],[2.12,.4,.3,.2,.06,-.05,-.14,-.2],[2.16,.38,.26,.16,.05,-.06,-.16,-.24],[2.2,.35,.25,.12,0,-.1,-.18,-.28],[2.24,.38,.28,.15,.05,-.08,-.2,-.25],[2.28,.4,.3,.18,.08,-.02,-.14,-.25],[2.32,.34,.24,.1,-.02,-.16,-.22,-.3],[2.36,.32,.18,.08,-.05,-.15,-.25],[2.4,.36,.26,.12,.02,-.1,-.2,-.3],[2.44,.3,.17,.06,-.08,-.18,-.28],[2.48,.28,.15,.05,-.1,-.22,-.3],[2.52,.3,.2,.1,-.02,-.12,-.26,-.32],[2.56,.38,.25,.12,0,-.1,-.2,-.28],[2.6,.24,.12,.02,-.12,-.22,-.32],[2.64,.3,.16,.08,-.06,-.16,-.25],[2.68,.42,.2,.1,-.02,-.12,-.28],[2.72,.28,.17,.05,-.08,-.2,-.3],[2.76,.34,.2,.07,-.05,-.16,-.28],[2.8,.25,.15,0,-.12,-.22,-.34],[2.84,.3,.12,.02,-.1,-.2,-.3],[2.88,.36,.2,.08,-.05,-.15,-.27],[2.92,.25,.14,.03,-.12,-.25],[2.96,.32,.18,.1,-.03,-.15,-.3],[3,.38,.23,.06,-.1,-.2],[3.04,.3,.16,.05,-.02,-.14,-.22],[3.08,.4,.2,.1,-.08,-.2],[3.12,.33,.22,.12,0,-.12],[3.16,.3,.18,.06,-.05,-.15],[3.2,.44,.25,.12,0,-.1],[3.24,.33,.17,.05,-.05],[3.28,.36,.22,.1,.03,-.07],[3.32,.3,.15,.05,0],[3.36,.25,.12,0],[3.4,.18,.1,0,.35],[3.44,.22,.12,.05,.4],
[3.5,.08,.02,-.04,.15],[3.54,.12,0,-.08],[3.58,.05,-.02,-.12,.12],[3.62,.08,-.05,-.14],[3.66,.04,-.03,-.1,.14],[3.7,.02,-.08,-.13,-.2],[3.74,.06,0,-.05,-.12,-.18],[3.78,.02,-.03,-.1,-.16,-.22,.35],[3.82,.05,0,-.07,-.14,.38],[3.86,.03,-.05,-.12,-.2],[3.9,.07,0,-.08,-.16,.3],[3.94,.05,-.03,-.1,.15],[3.98,.08,0,-.06,-.12,.4],[4.02,.05,-.02,-.1,.2,.26],[4.06,.1,.03,-.05,-.14,.3],[4.1,.07,0,-.08,.14,.22,.42],[4.14,.1,.03,-.1,.28,.36],[4.18,.05,-.03,.16,.25,.4,.47],[4.22,.08,0,-.12,.22,.34,.5],[4.26,.02,-.06,.18,.27,.38,.45],[4.3,.05,-.04,.22,.3,.42,.52],[4.34,0,.1,.26,.36,.48,.6],[4.38,.05,.2,.32,.55],[4.62,1.4,1.45,1.35],[4.68,1.42,1.5,1.55],[4.74,1.28,1.45,1.58],[4.8,1.4,1.55,1.7],[4.86,1.35,1.48,1.62],[4.52,1,1.1],[4.47,.9,.8]];
const riFill=[[.54,.25,.45,.05],[.6,.18,.35,.42,.5],[.66,.05,.12,.28,.42],[.7,.1,.35,-.1],[.76,.1,.18,-.1,-.18],[.82,.05,.2,-.15],
[2.02,.12,.25,0],[2.06,.22,.08,-.05],[2.1,.24,.14,.02,-.08],[2.14,.34,.22,.1,-.02,-.1],[2.18,.3,.2,.08,-.02,-.12,-.2],[2.22,.3,.2,.08,-.05,-.15],[2.26,.33,.22,.1,-.02,-.12,-.3],[2.3,.35,.25,.12,.04,-.08,-.18],[2.34,.27,.18,.05,-.08,-.2,-.27],[2.38,.25,.12,.02,-.12,-.2,-.3],[2.42,.3,.2,.08,-.04,-.15,-.26],[2.46,.24,.1,0,-.12,-.24],[2.5,.33,.22,.12,-.02,-.16,-.26],[2.54,.24,.06,-.06,-.17,-.28],[2.58,.3,.18,.05,-.05,-.16,-.3],[2.62,.35,.16,.06,-.08,-.18,-.28],[2.66,.23,.12,.03,-.1,-.22,-.35],[2.7,.32,.14,.05,-.08,-.18,-.32],[2.74,.24,.1,-.02,-.14,-.25],[2.78,.22,.12,0,-.1,-.22,-.36],[2.82,.2,.08,-.06,-.16,-.28],[2.86,.26,.16,.05,-.08,-.24],[2.9,.2,.1,-.02,-.18,-.32],[2.94,.3,.12,.02,-.08,-.22],[2.98,.27,.14,.03,-.12,-.24],[3.02,.2,.1,-.04,-.17,-.3],[3.06,.27,.12,.02,-.08,-.18],[3.1,.22,.14,.04,-.1,-.16],[3.14,.24,.08,-.02,-.1],[3.18,.28,.14,.02,-.08],[3.22,.22,.08,-.03],[3.26,.28,.13,0],[3.3,.24,.08,-.02],
[3.6,.1,-.03,-.08],[3.64,.02,-.1,-.16],[3.68,.07,-.05,-.14],[3.72,.1,-.04,-.16],[3.76,.08,-.02,-.08,-.15],[3.8,.1,-.05,-.12,-.2],[3.84,.07,-.02,-.1,-.16],[3.88,.1,.02,-.06,-.14],[3.92,.08,.02,-.06],[3.96,.12,.02,-.05],[4,.04,-.04,-.1,.1,.18],[4.04,.1,-.03,.16],[4.08,.12,.04,-.03,.22],[4.12,.18,.06,-.02,.28],[4.16,.12,.04,.22,.3],[4.2,.02,.3,.38],[4.24,.12,.3,.42],[4.28,.18,.35,.48]];
const riOrange=[0,0,.03,.1,.08,.26,.12,.22,.2,.17,.27,.02,.33,.02,.4,.1,.5,.18,.6,.2,.75,.14,.9,.05,1.05,-.05,1.2,-.1,1.3,-.07,1.4,.05,1.55,.14,1.7,.2,1.85,.23,2,.1,2.2,.03,2.45,-.02,2.7,.02,2.9,.02,3,.01,3.2,.05,3.35,.1,3.5,.18,3.7,.15,3.9,.25,4.1,.37,4.3,.52,4.4,.85,4.5,1.2,4.55,1.3];
const riGreen=[.9,.03,1.05,-.07,1.2,-.13,1.3,-.1,1.4,.03,1.55,.13,1.75,.22,1.85,.24,2,.07,2.2,-.05,2.45,-.11,2.7,-.08,3,-.09,3.2,-.03,3.35,.07,3.5,.25,3.6,.2,3.7,.14,3.9,.2,4.1,.33,4.3,.38,4.38,.55,4.45,1,4.5,1.15];
const riCyan=[.9,0,1,-.08,1.15,-.15,1.3,-.13,1.4,.05,1.55,.2,1.75,.27,1.85,.27,2,.02,2.2,-.1,2.45,-.19,2.7,-.19,3,-.21,3.2,-.12,3.35,.05,3.45,.3,3.55,.36,3.65,.25,3.72,.17,3.9,.2,4.1,.28,4.2,.22,4.3,.13,4.35,.28,4.4,.5,4.5,1];
const riBlue=[.42,.2,.55,.18,.65,.05,.75,-.05,.95,-.05,1.1,.02,1.3,.03,1.45,.15,1.6,.22,1.8,.25,2,.13,2.2,.08,2.45,.03,2.7,.09,3,.08,3.3,.1,3.5,.13,3.7,.12,3.9,.13,4.1,.2,4.3,.45,4.4,.6,4.54,.82,4.7,1.1,4.95,1.41];
const riRed=[.43,.33,.5,.27,.6,.2,.7,0,.85,-.03,1,-.05,1.05,0,1.2,.03,1.35,.15,1.5,.15,1.7,.2,1.85,.22,2,.12,2.2,.05,2.45,0,2.7,.03,3,.05,3.3,.08,3.45,.13,3.55,.1,3.7,.07,3.85,.1,4.05,.15,4.15,.2,4.25,.3,4.3,.5,4.35,.7,4.4,1.05,4.5,1.3,4.55,1.45,4.65,1.55,4.75,1.65,4.85,1.55,4.95,1.45,5,1.45];

const izPoints=[.63,-.98,.86,.99,.94,.92,.67,.88,.82,.84,.53,.68,.81,.72,.31,.47,.6,-.33,.56,-.21,.67,-.15,.95,-.24,1.03,-.25,1.2,-.3,1.19,-.47,1.54,-.72,1.54,-.45,1.6,-.34,1.74,-.33,1.65,-.37,1.87,-.44,1.94,-.36,1.68,.7,1.65,.68,1.55,.6,1.62,.6,2.44,1.24,2.53,1.24,2.38,1.09,2.54,1.14,2.59,1.12,2.24,1.03,2.3,.99,2.48,1.05,2.48,.98,3.02,1.06,3.12,.98,2.19,.91,2.35,.89,2.35,-.72,2.22,-.55,2.34,-.57,2.43,-.6,2.74,-.69,2.94,-.74,3.11,-.68,3.32,-.74,3.33,-.59,3.08,-.92,3.63,-.86,3.8,-.8,3.59,-.5,3.71,-.48,3.88,-.59,4.05,-.6,4.97,-.87,4.95,-.28,4.75,-.28,4.55,-.2,4.41,-.22,5.27,.8,5.12,.69,4.36,.71,4.57,.59,4.97,.61,4.72,.5,4.92,.5,5.02,.41,5.15,.36,5.43,.36,5.24,.23,3.75,.74,3.85,.72,3.75,.62,4,.68,4.1,.65,
.32,.3,.38,.5,.42,.43,.45,.32,.47,.2,.5,.48,.52,.12,.55,.3,.57,.05,.58,.42,.6,.2,.62,.52,.64,.35,.65,.1,.67,.45,.68,.25,.7,.62,.7,.05,.72,.38,.74,.5,.75,.2,.76,.6,.77,.32,.78,.12,.8,.45,.8,.65,.82,.27,.84,.55,.85,.12,.86,.38,.88,.5,.9,.62,.9,.02,.92,.3,.94,.42,.95,.12,.97,.55,1,.25,1,-.08,1.03,.35,1.05,.48,1.07,.05,1.1,.25,1.12,-.1,1.15,.38,1.18,.12,1.2,-.08,1.25,.28,1.3,.02,1.33,.3,1.36,.12,
1.42,.15,1.45,.4,1.47,.05,1.5,.27,1.52,.5,1.55,.1,1.55,-.15,1.58,.35,1.6,.2,1.62,.45,1.65,.02,1.68,.3,1.7,-.18,1.72,.15,1.75,.38,1.78,.25,1.8,.05,1.82,-.22,1.85,.22,1.88,.3,1.9,.12,1.92,-.1,1.5,-.25,1.6,-.05,
2.9,.62,2.95,.4,3,.2,3.02,.75,3.05,.08,3.07,-.42,3.1,.3,3.15,.55,3.17,.1,3.2,.4,3.22,-.35,3.27,.25,3.3,.48,3.3,-.45,3.33,.12,3.36,.3,3.38,-.28,
4.35,.5,4.38,.1,4.42,.3,4.45,.55,4.5,.12,4.52,.38,4.6,.25,4.62,-.05,4.68,.08,4.7,.2,4.75,.02,4.8,.22,4.82,-.12,4.85,.1,4.88,.2,4.92,-.18,4.95,.02];
const izDense=[[.55,.15,.3,.4,.5],[.6,.05,.12,.22,.33,.42,.5],[.64,.12,.2,.28,.42,.5,.58],[.68,.05,.15,.22,.32,.4,.5,.6],[.72,.08,.18,.27,.34,.42,.5,.56,.65],[.76,.05,.12,.22,.3,.38,.45,.52,.58,.65],[.8,.02,.1,.18,.28,.35,.42,.5,.6],[.84,.05,.15,.22,.3,.38,.48,.55],[.88,0,.12,.2,.3,.4,.62],[.92,.1,.18,.25,.35,.48],[.96,-.05,.15,.22,.32],[1,.02,.12,.2,.4],[1.55,.02,.12,.22,.35,.4],[1.6,.3,.1,-.02],[1.68,.1,.2,.35],[1.75,.08,.22,.3],
[2,.05,.12,.32,.4,.45],[2.04,-.1,.1,.2,.3,.4,.5,.58],[2.08,-.15,0,.18,.28,.38,.45,.55,.62,.7],[2.12,-.18,-.05,.05,.22,.32,.4,.5,.58,.68],[2.16,-.22,-.1,0,.12,.25,.35,.42,.55,.72,.78],[2.2,-.3,-.12,-.05,.08,.18,.3,.4,.48,.58,.68],[2.24,-.2,-.08,.02,.15,.25,.38,.45,.55,.62,.72,.85],[2.28,-.35,-.18,-.05,.1,.22,.32,.4,.5,.6,.7,.78],[2.32,-.28,-.15,-.02,.05,.15,.28,.38,.45,.55,.65,.72],[2.36,-.4,-.25,-.1,.02,.12,.22,.32,.42,.52,.6,.68,.8],[2.4,-.28,-.15,-.05,.08,.18,.28,.38,.48,.55,.62,.72,.85],[2.44,-.45,-.18,-.02,.1,.22,.35,.45,.52,.6,.7,.78],[2.48,-.3,-.15,-.05,.05,.18,.3,.4,.5,.58,.65,.72,.9],[2.52,-.22,-.08,.02,.12,.25,.35,.45,.55,.62,.75,.85],[2.56,-.38,-.18,-.05,.1,.18,.3,.42,.5,.6,.68,.78],[2.6,-.3,-.12,0,.12,.25,.35,.42,.52,.65,.75],[2.64,-.2,-.08,.05,.15,.25,.38,.48,.58,.68],[2.68,-.4,-.15,-.02,.1,.22,.3,.42,.55,.65,.8],[2.72,-.25,-.12,.02,.12,.28,.35,.5,.6,.72],[2.76,-.18,-.05,.08,.18,.32,.45,.55],[2.8,-.35,-.12,0,.1,.25,.38,.48,.6,.72],[2.84,-.2,-.08,.05,.18,.3,.42],[2.88,-.28,-.15,.02,.12,.22,.38],[2.92,-.35,-.1,0,.2,.32,.52],[2.96,-.22,-.12,.05,.15,.3],[3,-.15,-.05,.1,.28,.45],[3.04,-.32,-.18,.02,.18,.35],[3.08,-.25,-.1,.05,.22],[3.12,-.3,-.05,.12],[3.16,-.12,.02,.3],[3.2,-.18,.05,.2],[3.25,-.25,.15,.3],[3.3,-.1,.08],
[3.42,-.1,.05,.15,.3,.4],[3.46,-.22,0,.12,.25,.45],[3.5,-.25,-.12,.15,.28,.38],[3.54,-.3,-.05,.1,.22,.32,.42],[3.58,-.22,-.12,.02,.08,.2,.35],[3.62,-.35,-.08,.05,.12,.25,.3,.42],[3.66,-.28,-.15,0,.18,.28,.38],[3.7,-.35,-.1,.08,.15,.22,.32,.42],[3.74,-.25,-.05,.02,.1,.2,.28,.4],[3.78,-.32,-.15,.05,.12,.22,.35,.42],[3.82,-.25,-.05,.08,.18,.3,.4],[3.86,-.35,-.12,.02,.12,.2,.32],[3.9,-.2,-.1,.05,.25,.35,.45],[3.94,-.28,-.02,.1,.18,.3],[3.98,-.15,0,.12,.28,.4,.5],[4.02,-.25,-.05,.1,.18,.35,.45],[4.06,-.12,.02,.2,.28,.5],[4.1,-.2,-.05,.12,.35,.45],[4.14,-.1,.08,.2,.3,.42],[4.18,-.15,.02,.15,.35,.5],[4.22,-.05,.12,.25,.42],[4.26,-.12,.08,.18,.35],[4.3,.05,.28,.4,.5],[4.36,-.1,.2,.35]];
const izFill=[[.62,.08,.25,.38,.46],[.66,.15,.35,.45],[.7,.12,.2,.28,.42,.55],[.74,.15,.25,.42,.6],[.78,.08,.25,.42,.55],[.82,.12,.32,.46],[.86,.18,.28,.42],
[2.02,.25,.15,.35],[2.06,.05,.15,.25,.35,.45,.6],[2.1,.05,.15,.28,.42,.52,.65],[2.14,-.12,.12,.18,.28,.45,.62],[2.18,-.15,.05,.2,.3,.38,.48,.65],[2.22,-.1,0,.12,.25,.35,.45,.52,.62,.75],[2.26,-.28,-.12,.08,.18,.3,.42,.52,.65],[2.3,-.22,-.08,.02,.12,.28,.35,.45,.55,.65,.8],[2.34,-.35,-.2,-.05,.08,.18,.32,.42,.5,.6,.75],[2.38,-.18,-.02,.07,.18,.28,.35,.45,.55,.65,.75],[2.42,-.32,-.1,.02,.12,.25,.32,.42,.52,.58,.68,.8],[2.46,-.25,-.08,.05,.15,.28,.4,.48,.55,.65,.75],[2.5,-.38,-.18,-.02,.1,.22,.35,.45,.52,.62,.7,.78],[2.54,-.28,-.12,-.02,.08,.2,.3,.4,.5,.58,.68,.8],[2.58,-.15,.02,.15,.25,.38,.45,.55,.62,.72],[2.62,-.25,-.08,.08,.18,.3,.4,.48,.58,.7],[2.66,-.32,-.12,.02,.12,.22,.32,.45,.52,.6,.72],[2.7,-.18,-.05,.06,.18,.3,.4,.48,.58],[2.74,-.3,-.1,.05,.15,.22,.42,.52,.65],[2.78,-.12,.02,.12,.25,.38,.5],[2.82,-.25,-.05,.1,.22,.35,.45],[2.86,-.15,0,.12,.25,.35],[2.9,-.22,-.06,.08,.18,.3,.42],[2.94,-.28,-.05,.1,.25],[2.98,-.15,.02,.18,.35],[3.02,-.22,-.08,.12,.25],[3.06,-.16,0,.15],[3.1,-.35,-.18,.02],[3.14,-.22,-.05,.08],[3.18,-.28,-.08,.12],[3.22,-.12,.1],
[3.44,-.18,-.05,.1,.2],[3.48,-.15,.05,.2],[3.52,-.18,-.02,.1,.32],[3.56,-.25,-.08,.05,.15,.28],[3.6,-.15,-.02,.18,.25,.38],[3.64,-.22,-.1,.08,.2,.33],[3.68,-.3,-.08,.05,.12,.25,.35],[3.72,-.18,-.02,.05,.18,.28,.38],[3.76,-.12,.08,.15,.25,.35],[3.8,-.2,-.05,.02,.15,.28,.4],[3.84,-.18,0,.12,.22,.35],[3.88,-.25,-.05,.08,.15,.28,.38],[3.92,-.12,.02,.12,.2,.38],[3.96,-.2,.05,.15,.25,.35],[4,-.08,.05,.18,.25],[4.04,-.15,.02,.15,.32],[4.08,-.08,.1,.25,.4],[4.12,-.12,.02,.18,.3],[4.16,.05,.25,.38]];
const izOrange=[0,0,.05,-.03,.12,-.08,.2,-.05,.25,.1,.3,.28,.37,.28,.43,.15,.5,.08,.6,.02,.7,.05,.8,.15,.95,.19,1.1,.16,1.3,.11,1.4,.05,1.5,-.05,1.65,-.1,1.8,-.1,1.95,-.02,2.05,.12,2.2,.17,2.5,.2,2.65,.1,2.8,0,3.05,-.02,3.2,-.03,3.35,.02,3.4,.03,3.55,-.02,3.8,-.01,4,0,4.15,.05,4.25,.2,4.4,.26,4.55,.2,4.6,.15];
const izGreen=[.85,.17,1.1,.15,1.3,.1,1.5,-.07,1.65,-.13,1.8,-.12,1.95,-.03,2.05,.12,2.2,.18,2.5,.21,2.65,.05,2.85,-.06,3.05,-.08,3.2,-.1,3.35,0,3.4,0,3.55,-.1,3.8,-.11,4,-.08,4.15,-.02,4.25,.2,4.35,.37,4.45,.37,4.55,.28];
const izCyan=[.85,.16,1.1,.14,1.3,.08,1.5,-.12,1.65,-.16,1.8,-.13,1.95,-.03,2.05,.15,2.2,.24,2.5,.23,2.65,.02,2.85,-.12,3.05,-.2,3.2,-.23,3.3,-.12,3.35,-.08,3.45,-.15,3.55,-.28,3.8,-.28,4,-.18,4.15,-.1,4.25,.15,4.35,.5,4.45,.55,4.55,.38];
const izBlue=[.45,.2,.5,.08,.6,-.03,.65,.03,.72,.12,.85,.12,1,.02,1.15,-.06,1.3,-.05,1.5,-.03,1.7,0,1.9,.03,2.05,.15,2.2,.2,2.5,.2,2.7,.12,2.9,.06,3.1,.03,3.3,.04,3.5,.06,3.8,.06,4,.08,4.2,.1,4.4,.15,4.7,.17,4.95,.18];
const izRed=[.42,.24,.48,.12,.6,.08,.7,.25,.75,.29,.85,.26,.95,.2,1.05,.15,1.15,.05,1.3,.05,1.4,.03,1.5,.05,1.6,.08,1.75,.12,1.85,.05,1.95,.15,2,.25,2.05,.28,2.2,.26,2.4,.27,2.55,.2,2.7,.14,2.85,.07,3,.05,3.2,.05,3.35,.08,3.5,.06,3.8,.05,4,.06,4.15,.08,4.25,.15,4.4,.15,4.55,.14,4.6,.07,4.65,.05,4.7,.02,4.8,.05,4.85,.1,4.95,.1,5,.1];

const xMajor=[0,2,4];
const xMinor=[.5,1,1.5,2.5,3,3.5,4.5,5];
const xLabel="Redshift";
const pairs=a=>{const r=[];for(let i=0;i+1<a.length;i+=2)r.push([a[i],a[i+1]]);return r;};
const columns=a=>a.flatMap(([z,...ys])=>ys.map(y=>[z,y]));
const COLORS={red:"#ff0000",blue:"#0808e8",cyan:"#00ccf5",green:"#99ee00",orange:"#ff9a0a",black:"#000"};
const serif="Liberation Serif", sans="Liberation Sans";
const num=d=>String(d).replace("-","−");

function panel(o){
 const [y0,y1]=o.yDomain, span=y1-y0, xd=[-.013,5.53], xspan=xd[1]-xd[0];
 const frameH=295, frameW=291;
 const lenY=px=>px/frameH*span, lenX=px=>px/frameW*xspan;
 const tickXs=(vals,px)=>[Plot.ruleX(vals,{y1:y0,y2:y0+lenY(px),stroke:"#222",strokeWidth:1.2}),Plot.ruleX(vals,{y1:y1,y2:y1-lenY(px),stroke:"#333",strokeWidth:1.2})];
 const tickYs=(vals,px)=>[Plot.ruleY(vals,{x1:xd[0],x2:xd[0]+lenX(px),stroke:"#222",strokeWidth:1.2}),Plot.ruleY(vals,{x1:xd[1],x2:xd[1]-lenX(px),stroke:"#333",strokeWidth:1.2})];
 const smooth=(a,c,w=3.4)=>Plot.line(pairs(a),{x:d=>d[0],y:d=>d[1],stroke:c,strokeWidth:w,curve:"catmull-rom",clip:"frame"});
 return Plot.plot({
  width:343,height:o.height,marginLeft:51,marginRight:1,marginTop:10,marginBottom:o.height-305,
  x:{domain:xd,axis:null},y:{domain:o.yDomain,axis:null},
  style:{background:"transparent",overflow:"hidden"},
  marks:[
   Plot.dot(pairs(o.points).concat(columns(o.dense),columns(o.fill)),{x:d=>d[0],y:d=>d[1],r:2.5,fill:"#000",stroke:"none",clip:"frame"}),
   Plot.line(pairs(o.red),{x:d=>d[0],y:d=>d[1],stroke:COLORS.red,strokeWidth:2,curve:"step-after",clip:"frame"}),
   o.black?smooth(o.black,COLORS.black,3):null,
   smooth(o.blue,COLORS.blue),
   smooth(o.cyan,COLORS.cyan),
   smooth(o.green,COLORS.green),
   smooth(o.orange,COLORS.orange),
   ...tickXs(xMajor,8),...tickXs(xMinor,5),
   ...tickYs(o.yMajor,8),...tickYs(o.yMinor,5),
   Plot.frame({stroke:"#3a3a3a",strokeWidth:1.6}),
   Plot.text(xMajor,{x:d=>d,text:num,frameAnchor:"bottom",dx:3,dy:o.tickDy,fontFamily:serif,fontSize:22,fill:"#111"}),
   Plot.text(o.yMajor,{y:d=>d,text:num,frameAnchor:"left",textAnchor:"end",dx:-8,dy:3,fontFamily:serif,fontSize:22,fill:"#111"}),
   Plot.text([xLabel],{frameAnchor:"bottom",text:d=>d,dx:4,dy:o.xLabelDy,lineAnchor:"bottom",fontFamily:sans,fontSize:27.5,fill:"#111"}),
   Plot.text([o.yLabel],{frameAnchor:"left",text:d=>d,textAnchor:"middle",rotate:-90,dx:o.yLabelDx,dy:o.yLabelDy,fontFamily:sans,fontSize:25,fill:"#111"})
  ]
 });
}
const panels=[
 {left:0,top:0,height:378,tickDy:24.5,yDomain:[-.5,4],yMajor:[0,1,2,3,4],yMinor:[-.4,-.2,.2,.4,.6,.8,1.2,1.4,1.6,1.8,2.2,2.4,2.6,2.8,3.2,3.4,3.6,3.8],yLabel:"(u−g)",yLabelDx:-49,yLabelDy:5,xLabelDy:54,points:ugPoints,dense:ugDense,fill:ugFill,red:ugRed,black:ugBlack,blue:ugBlue,cyan:ugCyan,green:ugGreen,orange:ugOrange},
 {left:420,top:0,height:378,tickDy:24.5,yDomain:[-1,5],yMajor:[0,2,4],yMinor:[-.5,.5,1,1.5,2.5,3,3.5,4.5],yLabel:"(g−r)",yLabelDx:-43,yLabelDy:7,xLabelDy:54,points:grPoints,dense:grDense,fill:grFill,red:grRed,black:grBlack,blue:grBlue,cyan:grCyan,green:grGreen,orange:grOrange},
 {left:0,top:391,height:365,tickDy:23,yDomain:[-.5,2],yMajor:[0,1,2],yMinor:[-.4,-.2,.2,.4,.6,.8,1.2,1.4,1.6,1.8],yLabel:"(r−i)",yLabelDx:-49,yLabelDy:13,xLabelDy:52,points:riPoints,dense:riDense,fill:riFill,red:riRed,blue:riBlue,cyan:riCyan,green:riGreen,orange:riOrange},
 {left:420,top:391,height:365,tickDy:23,yDomain:[-1,1.5],yMajor:[-1,0,1],yMinor:[-.8,-.6,-.4,-.2,.2,.4,.6,.8,1.2,1.4],yLabel:"(i−z)",yLabelDx:-43,yLabelDy:11,xLabelDy:52,points:izPoints,dense:izDense,fill:izFill,red:izRed,blue:izBlue,cyan:izCyan,green:izGreen,orange:izOrange}
];
const c=document.getElementById("c");
for(const p of panels){const s=panel(p);s.style.left=p.left+"px";s.style.top=p.top+"px";c.appendChild(s);}
</script></body></html>
